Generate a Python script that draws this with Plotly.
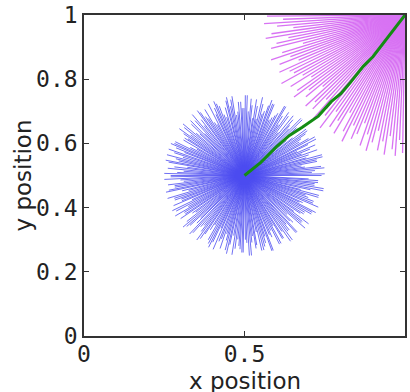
import math
import plotly.graph_objects as go

# ---- data ----
blue_center = (0.5, 0.5)
blue_angles = [0,2.5,5.5,8,11,13.5,16,19.5,22,24.5,27,30,33,35.5,38,41.5,44,46.5,49,52,55,57.5,60,63,66,68.5,71,74,77,79.5,
               82,85,88,90.5,93,96,99,101.5,104,107,110,112.5,115,118,121,123.5,126,129,132,134.5,137,140,143,145.5,148,151,154,156.5,159,162,
               165,167.5,170,173,176,178.5,181,184,187,189.5,192,195,198,200.5,203,206,209,211.5,214,217,220,222.5,225,228,231,233.5,236,239,242,244.5,
               247,250,253,255.5,258,261,264,266.5,269,272,275,277.5,280,283,286,288.5,291,294,297,299.5,302,305,308,310.5,313,316,319,321.5,324,327,
               330,332.5,335,338,341,343.5,346,349,352,354.5,357]
blue_lengths = [0.24,0.21,0.25,0.19,0.23,0.25,0.20,0.24,0.22,0.18,0.25,0.23,0.21,0.24,0.19,0.22,0.25,0.20,0.23,0.17,
                0.24,0.22,0.25,0.21,0.19,0.24,0.23,0.20,0.25,0.22,0.18,0.24,0.25,0.21,0.23,0.20,0.25,0.22,0.24,0.19,
                0.23,0.25,0.21,0.18,0.24,0.22,0.25,0.20,0.23,0.24,0.19,0.25,0.21,0.23,0.22,0.17,0.24,0.25,0.20,0.23,
                0.25,0.21,0.24,0.22,0.19,0.25,0.23,0.20,0.24,0.22,0.25,0.18,0.23,0.21,0.24,0.25,0.20,0.22,0.24,0.19,
                0.25,0.23,0.21,0.24,0.20,0.25,0.22,0.18,0.24,0.23,0.25,0.21,0.19,0.24,0.22,0.25,0.20,0.23,0.24,0.21,
                0.25,0.19,0.22,0.24,0.23,0.20,0.25,0.21,0.24,0.18,0.23,0.25,0.22,0.20,0.24,0.21,0.25,0.23,0.19,0.22,
                0.24,0.25,0.20,0.23,0.21,0.24,0.18,0.25,0.22,0.23]
# second, interleaved set of blue rays (the burst is very dense)
blue_angles2 = [1.2,4,6.8,9.5,12.3,15,17.8,20.6,23.4,26,28.8,31.5,34.3,37,39.8,42.6,45.4,48,50.8,53.5,56.3,59,61.8,64.6,67.4,70,72.8,75.5,78.3,81,
                83.8,86.6,89.4,92,94.8,97.5,100.3,103,105.8,108.6,111.4,114,116.8,119.5,122.3,125,127.8,130.6,133.4,136,138.8,141.5,144.3,147,149.8,152.6,155.4,158,160.8,163.5,
                166.3,169,171.8,174.6,177.4,180,182.8,185.5,188.3,191,193.8,196.6,199.4,202,204.8,207.5,210.3,213,215.8,218.6,221.4,224,226.8,229.5,232.3,235,237.8,240.6,243.4,246,
                248.8,251.5,254.3,257,259.8,262.6,265.4,268,270.8,273.5,276.3,279,281.8,284.6,287.4,290,292.8,295.5,298.3,301,303.8,306.6,309.4,312,314.8,317.5,320.3,323,325.8,328.6,
                331.4,334,336.8,339.5,342.3,345,347.8,350.6,353.4,356,358.8]
blue_lengths2 = [0.20,0.25,0.22,0.24,0.18,0.23,0.25,0.21,0.19,0.24,0.22,0.25,0.20,0.23,0.24,0.17,0.22,0.25,0.21,0.24,
                 0.23,0.19,0.25,0.22,0.20,0.24,0.25,0.21,0.23,0.18,0.24,0.22,0.20,0.25,0.21,0.23,0.19,0.24,0.25,0.22,
                 0.20,0.24,0.23,0.25,0.19,0.21,0.24,0.22,0.25,0.18,0.23,0.20,0.24,0.25,0.21,0.22,0.19,0.24,0.23,0.25,
                 0.20,0.22,0.25,0.18,0.24,0.21,0.23,0.25,0.19,0.22,0.24,0.20,0.25,0.23,0.21,0.18,0.24,0.25,0.22,0.20,
                 0.23,0.24,0.19,0.25,0.21,0.22,0.24,0.20,0.23,0.25,0.18,0.22,0.24,0.21,0.25,0.19,0.23,0.22,0.24,0.20,
                 0.25,0.21,0.23,0.18,0.24,0.22,0.25,0.20,0.19,0.24,0.23,0.21,0.25,0.22,0.24,0.20,0.18,0.23,0.25,0.21,
                 0.22,0.24,0.19,0.25,0.23,0.20,0.24,0.21,0.25,0.22,0.23]

mag_center = (1.0, 1.0)
mag_angles = [180.5,182,183.5,185,186.5,188,189.5,191,192.5,194,195.5,197,198.5,200,201.5,203,204.5,206,207.5,209,
              210.5,212,213.5,215,216.5,218,219.5,221,222.5,224,225.5,227,228.5,230,231.5,233,234.5,236,237.5,239,
              240.5,242,243.5,245,246.5,248,249.5,251,252.5,254,255.5,257,258.5,260,261.5,263,264.5,266,267.5,269]
mag_lengths = [0.43,0.38,0.44,0.40,0.35,0.42,0.44,0.37,0.41,0.43,0.33,0.40,0.44,0.38,0.42,0.36,0.43,0.40,0.39,0.44,
               0.37,0.42,0.35,0.41,0.43,0.38,0.40,0.34,0.42,0.39,0.41,0.36,0.43,0.38,0.40,0.44,0.37,0.42,0.39,0.43,
               0.35,0.41,0.44,0.38,0.42,0.40,0.36,0.43,0.39,0.44,0.41,0.37,0.43,0.40,0.44,0.38,0.42,0.44,0.39,0.43]

path_x = [0.50, 0.55, 0.60, 0.64, 0.68, 0.73, 0.77, 0.80, 0.83, 0.87, 0.90, 0.93, 0.96, 1.00]
path_y = [0.50, 0.54, 0.59, 0.625, 0.65, 0.685, 0.73, 0.755, 0.79, 0.84, 0.87, 0.91, 0.95, 1.00]

x_ticks = [0, 0.5, 1]
x_tick_labels = ["0", "0.5", "1"]
y_ticks = [0, 0.2, 0.4, 0.6, 0.8, 1]
y_tick_labels = ["0", "0.2", "0.4", "0.6", "0.8", "1"]
x_title = "x position"
y_title = "y position"


def rays(center, angles, lengths):
    xs, ys = [], []
    for a, l in zip(angles, lengths):
        r = math.radians(a)
        xs += [center[0], center[0] + l * math.cos(r), None]
        ys += [center[1], center[1] + l * math.sin(r), None]
    return xs, ys


bx, by = rays(blue_center, blue_angles + blue_angles2, blue_lengths + blue_lengths2)
mx, my = rays(mag_center, mag_angles, mag_lengths)

fig = go.Figure()
fig.add_trace(go.Scatter(x=bx, y=by, mode="lines", line=dict(color="rgb(0,0,235)", width=0.8),
                         opacity=0.7, hoverinfo="skip", showlegend=False))
fig.add_trace(go.Scatter(x=mx, y=my, mode="lines", line=dict(color="rgb(185,0,235)", width=1.3),
                         opacity=0.55, hoverinfo="skip", showlegend=False))
fig.add_trace(go.Scatter(x=path_x, y=path_y, mode="lines", line=dict(color="rgb(20,140,20)", width=3),
                         hoverinfo="skip", showlegend=False))

axis_common = dict(
    showgrid=False, zeroline=False, showline=True, linecolor="#333333", linewidth=1.5,
    mirror="ticks", ticks="inside", ticklen=5, tickcolor="#333333", tickwidth=1,
    tickfont=dict(family="DejaVu Sans Mono", size=23, color="#222222"),
    automargin=False,
)

title_font = dict(family="DejaVu Sans", size=23, color="#222222")

fig.update_layout(
    width=410, height=392,
    margin=dict(l=84, r=5, t=15, b=56),
    paper_bgcolor="white", plot_bgcolor="white",
    xaxis=dict(range=[0, 1], tickvals=x_ticks, ticktext=x_tick_labels, ticklabelstandoff=-3, **axis_common),
    yaxis=dict(range=[0, 1], tickvals=y_ticks, ticktext=y_tick_labels, **axis_common),
    annotations=[
        dict(text=x_title, x=0.5, y=0, xref="paper", yref="paper", xanchor="center", yanchor="middle",
             yshift=-45, showarrow=False, font=title_font),
        dict(text=y_title, x=0, y=0.5, xref="paper", yref="paper", xanchor="center", yanchor="middle",
             xshift=-62, textangle=-90, showarrow=False, font=title_font),
    ],
)

fig.write_html("out.html", config={"displayModeBar": False},
               post_script="document.body.style.margin='0';document.body.style.overflow='hidden';")
